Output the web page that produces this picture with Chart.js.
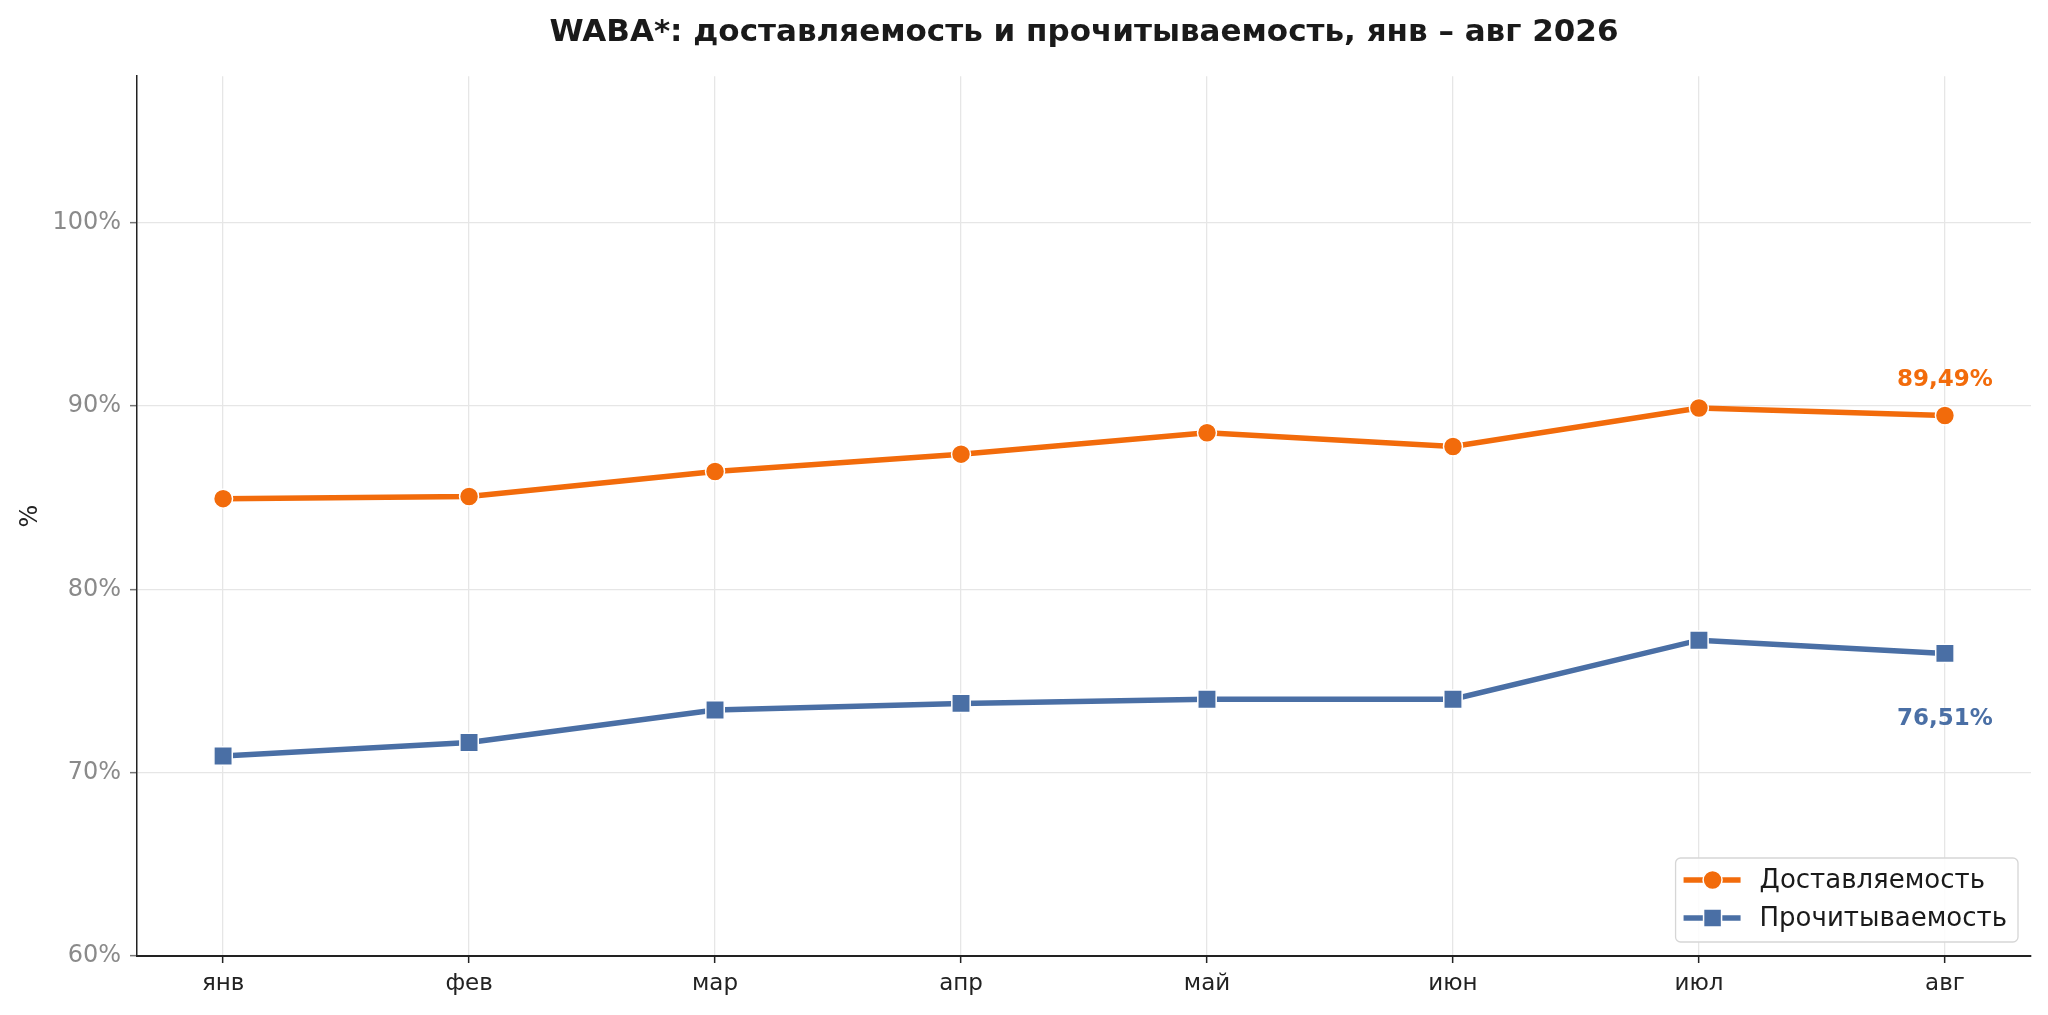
<!DOCTYPE html>
<html lang="ru">
<head>
<meta charset="utf-8">
<title>WABA*: доставляемость и прочитываемость</title>
<script src="https://cdn.jsdelivr.net/npm/chart.js@4.4.1/dist/chart.umd.min.js"></script>
<style>
  html, body { margin: 0; padding: 0; background: #fff; }
  #chart { display: block; }
</style>
</head>
<body>
<canvas id="chart" width="2048" height="1015"></canvas>
<script>
const months = ['янв', 'фев', 'мар', 'апр', 'май', 'июн', 'июл', 'авг'];
const deliveryRate = [84.95, 85.07, 86.43, 87.38, 88.55, 87.80, 89.90, 89.49];
const readRate = [70.91, 71.65, 73.42, 73.78, 74.01, 74.01, 77.23, 76.51];
const seriesNames = ['Доставляемость', 'Прочитываемость'];
const yTicks = [60, 70, 80, 90, 100];

const ORANGE = '#F26B0B';
const BLUE = '#4A6FA5';
const FONT = "'DejaVu Sans', sans-serif";

function toPoints(values) {
  return values.map((v, i) => ({ x: i, y: v }));
}

function fmtPct(v) {
  return v.toFixed(2).replace('.', ',') + '%';
}

// white page behind everything
const whiteBg = {
  id: 'whiteBg',
  beforeDraw(chart) {
    const ctx = chart.ctx;
    ctx.save();
    ctx.fillStyle = '#fff';
    ctx.fillRect(0, 0, chart.width, chart.height);
    ctx.restore();
  }
};

// value of the last month next to each line
const endLabels = {
  id: 'endLabels',
  afterDatasetsDraw(chart) {
    const ctx = chart.ctx;
    chart.data.datasets.forEach((ds, i) => {
      const meta = chart.getDatasetMeta(i);
      const pt = meta.data[meta.data.length - 1];
      const v = ds.data[ds.data.length - 1].y;
      const dy = i === 0 ? -35 : 66;
      ctx.save();
      ctx.font = 'bold 23px ' + FONT;
      ctx.fillStyle = ds.borderColor;
      ctx.textAlign = 'center';
      ctx.textBaseline = 'middle';
      ctx.fillText(fmtPct(v), pt.x, pt.y + dy);
      ctx.restore();
    });
  }
};

// matplotlib-like legend box in the lower right corner
const legendBox = {
  id: 'legendBox',
  afterDraw(chart) {
    const ctx = chart.ctx;
    const area = chart.chartArea;
    ctx.save();
    ctx.font = '26px ' + FONT;
    const textW = Math.max(...chart.data.datasets.map(d => ctx.measureText(d.label).width));
    const w = 84 + textW + 11;
    const h = 84;
    const right = area.right - 13;
    const bottom = area.bottom - 14;
    const left = right - w;
    const top = bottom - h;

    ctx.beginPath();
    ctx.roundRect(left, top, w, h, 5);
    ctx.fillStyle = 'rgba(255,255,255,0.85)';
    ctx.fill();
    ctx.strokeStyle = '#d6d6d6';
    ctx.lineWidth = 1.3;
    ctx.stroke();

    chart.data.datasets.forEach((ds, i) => {
      const cy = top + 22 + i * 38;
      ctx.strokeStyle = ds.borderColor;
      ctx.lineWidth = 5.5;
      ctx.beginPath();
      ctx.moveTo(left + 8, cy);
      ctx.lineTo(left + 65, cy);
      ctx.stroke();

      const mx = left + 37;
      ctx.fillStyle = ds.borderColor;
      ctx.strokeStyle = '#fff';
      ctx.lineWidth = 1.5;
      ctx.beginPath();
      if (ds.pointStyle === 'rect') {
        ctx.rect(mx - 9, cy - 9, 18, 18);
      } else {
        ctx.arc(mx, cy, 9.5, 0, Math.PI * 2);
      }
      ctx.fill();
      ctx.stroke();

      ctx.fillStyle = '#1a1a1a';
      ctx.textAlign = 'left';
      ctx.textBaseline = 'middle';
      ctx.fillText(ds.label, left + 84, cy + 1);
    });
    ctx.restore();
  }
};

new Chart(document.getElementById('chart'), {
  type: 'line',
  data: {
    datasets: [
      {
        label: seriesNames[0],
        data: toPoints(deliveryRate),
        borderColor: ORANGE,
        backgroundColor: ORANGE,
        borderWidth: 5.5,
        tension: 0,
        pointStyle: 'circle',
        pointRadius: 9.5,
        pointBackgroundColor: ORANGE,
        pointBorderColor: '#fff',
        pointBorderWidth: 1.5
      },
      {
        label: seriesNames[1],
        data: toPoints(readRate),
        borderColor: BLUE,
        backgroundColor: BLUE,
        borderWidth: 5.5,
        tension: 0,
        pointStyle: 'rect',
        pointRadius: 13,
        pointBackgroundColor: BLUE,
        pointBorderColor: '#fff',
        pointBorderWidth: 1.5
      }
    ]
  },
  options: {
    responsive: false,
    devicePixelRatio: 1,
    animation: false,
    layout: { padding: { top: 0, right: 17, bottom: 0, left: 0 } },
    scales: {
      x: {
        type: 'linear',
        min: -0.35,
        max: 7.35,
        afterFit(s) { s.height = 59; },
        afterBuildTicks(s) { s.ticks = months.map((m, i) => ({ value: i })); },
        ticks: {
          callback: v => months[v],
          color: '#222',
          font: { family: FONT, size: 23 },
          padding: 7,
          maxRotation: 0,
          autoSkip: false
        },
        grid: { color: '#e6e6e6', lineWidth: 1.3, tickLength: 7, tickColor: '#222', tickWidth: 1.5 },
        border: { display: true, color: '#222', width: 2 }
      },
      y: {
        min: 60,
        max: 108,
        afterFit(s) { s.width = 137; },
        afterBuildTicks(s) { s.ticks = yTicks.map(v => ({ value: v })); },
        ticks: {
          callback: v => v + '%',
          color: '#8a8a8a',
          font: { family: FONT, size: 24 },
          padding: 9
        },
        grid: { color: '#e6e6e6', lineWidth: 1.3, tickLength: 7, tickColor: '#777', tickWidth: 1.5 },
        border: { display: true, color: '#222', width: 1.5 },
        title: {
          display: true,
          text: '%',
          color: '#222',
          font: { family: FONT, size: 24 },
          padding: { top: 16, bottom: 0 }
        }
      }
    },
    plugins: {
      title: {
        display: true,
        fullSize: false,
        text: 'WABA*: доставляемость и прочитываемость, янв – авг 2026',
        color: '#1a1a1a',
        font: { family: FONT, size: 31, weight: 'bold', lineHeight: 1.2 },
        padding: { top: 14, bottom: 25 }
      },
      legend: { display: false },
      tooltip: { enabled: false }
    }
  },
  plugins: [whiteBg, endLabels, legendBox]
});
</script>
</body>
</html>
